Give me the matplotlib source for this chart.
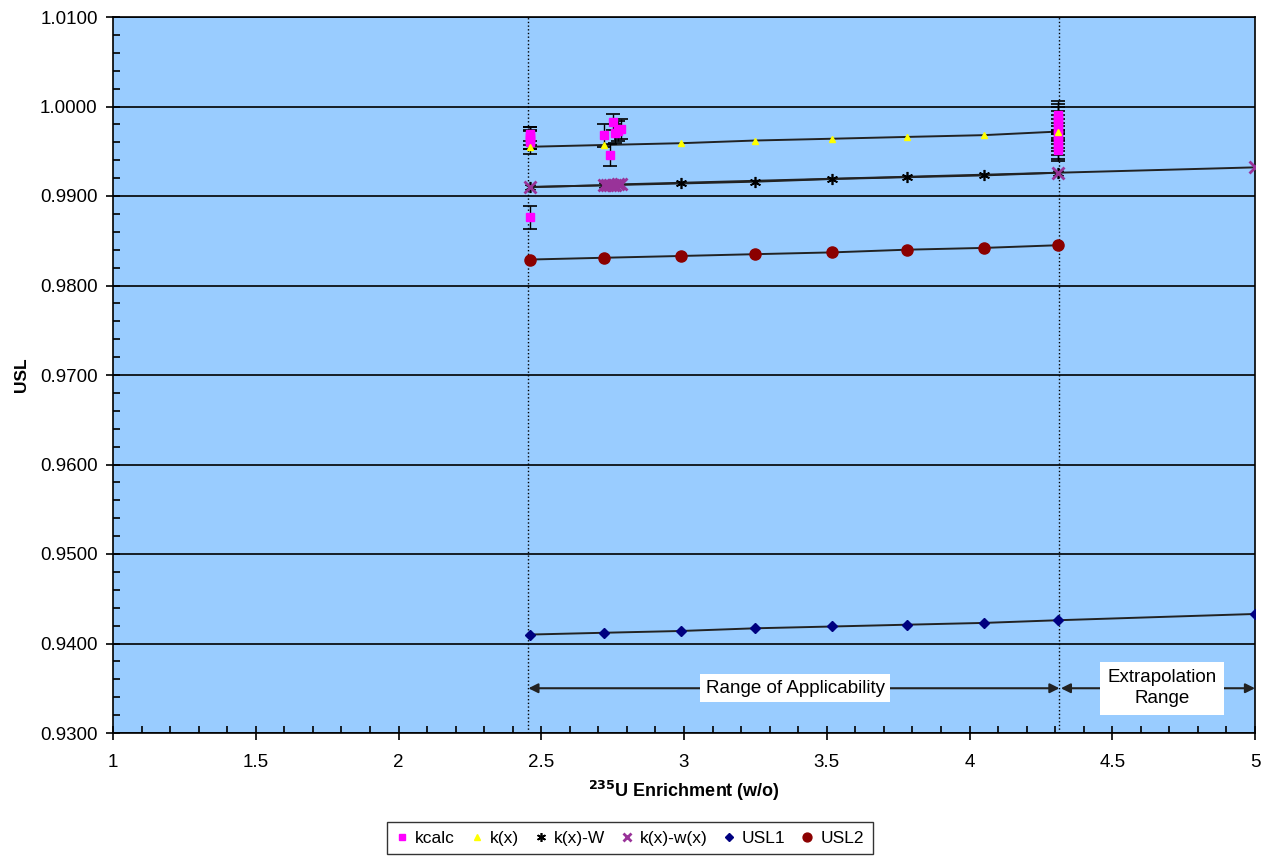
import matplotlib
matplotlib.use('Agg')
import matplotlib.pyplot as plt
from matplotlib.ticker import MultipleLocator, FormatStrFormatter

plt.rcParams['font.family'] = ['Liberation Sans', 'DejaVu Sans']

# kcalc with uncertainties
kcalc_x = [2.46, 2.46, 2.46, 2.46, 2.46, 2.46,
           2.72, 2.74, 2.75, 2.76, 2.77, 2.78,
           4.31, 4.31, 4.31, 4.31, 4.31, 4.31, 4.31, 4.31, 4.31, 4.31, 4.31]
kcalc_y = [0.9969, 0.9967, 0.9965, 0.9963, 0.9960, 0.9876,
           0.9968, 0.9946, 0.9983, 0.9970, 0.9973, 0.9975,
           0.9990, 0.9987, 0.9984, 0.9980, 0.9976, 0.9972, 0.9968,
           0.9964, 0.9960, 0.9955, 0.9951]
kcalc_err = [0.0008, 0.0010, 0.0012, 0.0011, 0.0013, 0.0013,
             0.0013, 0.0012, 0.0009, 0.0011, 0.0011, 0.0011,
             0.0016, 0.0016, 0.0015, 0.0015, 0.0014, 0.0014, 0.0014,
             0.0014, 0.0014, 0.0014, 0.0012]

grid_x = [2.46, 2.72, 2.99, 3.25, 3.52, 3.78, 4.05, 4.31]
kx_y = [0.9955, 0.9957, 0.9959, 0.9962, 0.9964, 0.9966, 0.9968, 0.9972]
kxW_y = [0.9910, 0.9912, 0.9914, 0.9916, 0.9919, 0.9921, 0.9923, 0.9926]

kxw_x = [2.46, 2.72, 2.73, 2.74, 2.75, 2.76, 2.77, 2.78, 4.31, 5.0]
kxw_y = [0.9910, 0.9912, 0.9912, 0.9912, 0.9912, 0.9912, 0.9913, 0.9913, 0.9926, 0.9932]

usl1_x = [2.46, 2.72, 2.99, 3.25, 3.52, 3.78, 4.05, 4.31, 5.0]
usl1_y = [0.9410, 0.9412, 0.9414, 0.9417, 0.9419, 0.9421, 0.9423, 0.9426, 0.9433]

usl2_x = [2.46, 2.72, 2.99, 3.25, 3.52, 3.78, 4.05, 4.31]
usl2_y = [0.9829, 0.9831, 0.9833, 0.9835, 0.9837, 0.9840, 0.9842, 0.9845]

aoa_lo, aoa_hi, x_max = 2.455, 4.315, 5.0

fig = plt.figure(figsize=(12.64, 8.61), dpi=100)
ax = fig.add_axes([113 / 1264, 1 - 733 / 861, (1255 - 113) / 1264, (733 - 17) / 861])
ax.set_facecolor('#99CCFF')

line_kw = dict(color='#222222', lw=1.4, zorder=2)
ax.plot(grid_x, kx_y, **line_kw)
ax.plot(grid_x, kxW_y, **line_kw)
ax.plot(kxw_x, kxw_y, **line_kw)
ax.plot(usl1_x, usl1_y, **line_kw)
ax.plot(usl2_x, usl2_y, **line_kw)

ax.errorbar(kcalc_x, kcalc_y, yerr=kcalc_err, fmt='none', ecolor='black',
            elinewidth=1.0, capsize=5, capthick=1.2, zorder=3)
ax.plot(kcalc_x, kcalc_y, 's', color='#FF00FF', ms=6, ls='none', zorder=4,
        label='kcalc')
ax.plot(grid_x, kx_y, '^', color='#FFFF00', ms=5, ls='none', zorder=4,
        label='k(x)')
ax.plot(grid_x, kxW_y, marker=(6, 2, 0), color='black', ms=8, mew=1.2,
        ls='none', zorder=4, label='k(x)-W')
ax.plot(kxw_x, kxw_y, 'x', color='#993399', ms=8, mew=2, ls='none', zorder=5,
        label='k(x)-w(x)')
ax.plot(usl1_x, usl1_y, 'D', color='#000080', ms=5, ls='none', zorder=4,
        label='USL1')
ax.plot(usl2_x, usl2_y, 'o', color='#8B0000', ms=8, ls='none', zorder=4,
        label='USL2')

ax.axvline(aoa_lo, color='black', ls=':', lw=1, zorder=3)
ax.axvline(aoa_hi, color='black', ls=':', lw=1, zorder=3)

arr_y = 0.9350
ax.annotate('', xy=(aoa_lo, arr_y), xytext=(aoa_hi, arr_y),
            arrowprops=dict(arrowstyle='<|-|>', color='#222222', lw=1.5,
                            mutation_scale=14, shrinkA=0, shrinkB=0))
ax.annotate('', xy=(aoa_hi + 0.005, arr_y), xytext=(x_max, arr_y),
            arrowprops=dict(arrowstyle='<|-|>', color='#222222', lw=1.5,
                            mutation_scale=14, shrinkA=0, shrinkB=0))
ax.text(3.39, arr_y, 'Range of Applicability', ha='center', va='center',
        fontsize=13.5, zorder=6,
        bbox=dict(boxstyle='square,pad=0.3', fc='white', ec='none'))
ax.text(4.675, arr_y, 'Extrapolation\nRange', ha='center', va='center',
        fontsize=13.5, zorder=6, linespacing=1.3,
        bbox=dict(boxstyle='square,pad=0.4', fc='white', ec='none'))

ax.set_xlim(1, 5)
ax.set_ylim(0.93, 1.01)
ax.xaxis.set_major_locator(MultipleLocator(0.5))
ax.xaxis.set_minor_locator(MultipleLocator(0.1))
ax.yaxis.set_major_locator(MultipleLocator(0.01))
ax.yaxis.set_minor_locator(MultipleLocator(0.002))
ax.yaxis.set_major_formatter(FormatStrFormatter('%.4f'))
ax.xaxis.set_major_formatter(plt.FuncFormatter(lambda v, p: f'{v:g}'))
ax.tick_params(which='major', direction='inout', length=10, width=1.2,
               labelsize=13.5)
ax.tick_params(axis='x', which='major', pad=10)
ax.tick_params(axis='y', which='major', pad=6)
ax.tick_params(which='minor', direction='in', length=5, width=1.2)
ax.grid(axis='y', which='major', color='black', lw=1.2, zorder=1)
ax.set_axisbelow(True)
for s in ax.spines.values():
    s.set_color('black')
    s.set_linewidth(1.2)

ax.set_ylabel('USL', fontsize=12.5, fontweight='bold', labelpad=8)
ax.set_xlabel(r'$^{\mathbf{235}}$U Enrichment (w/o)', fontsize=13,
              fontweight='bold', labelpad=6)

leg = fig.legend(loc='upper center', bbox_to_anchor=(0.4984, 0.0555), ncol=6,
                 frameon=True, fancybox=False, edgecolor='black',
                 fontsize=12.5, handlelength=0.7, handletextpad=0.4,
                 columnspacing=0.9, borderpad=0.5, markerscale=0.8)
leg.get_frame().set_linewidth(1)

fig.savefig('out.png', dpi=100)
